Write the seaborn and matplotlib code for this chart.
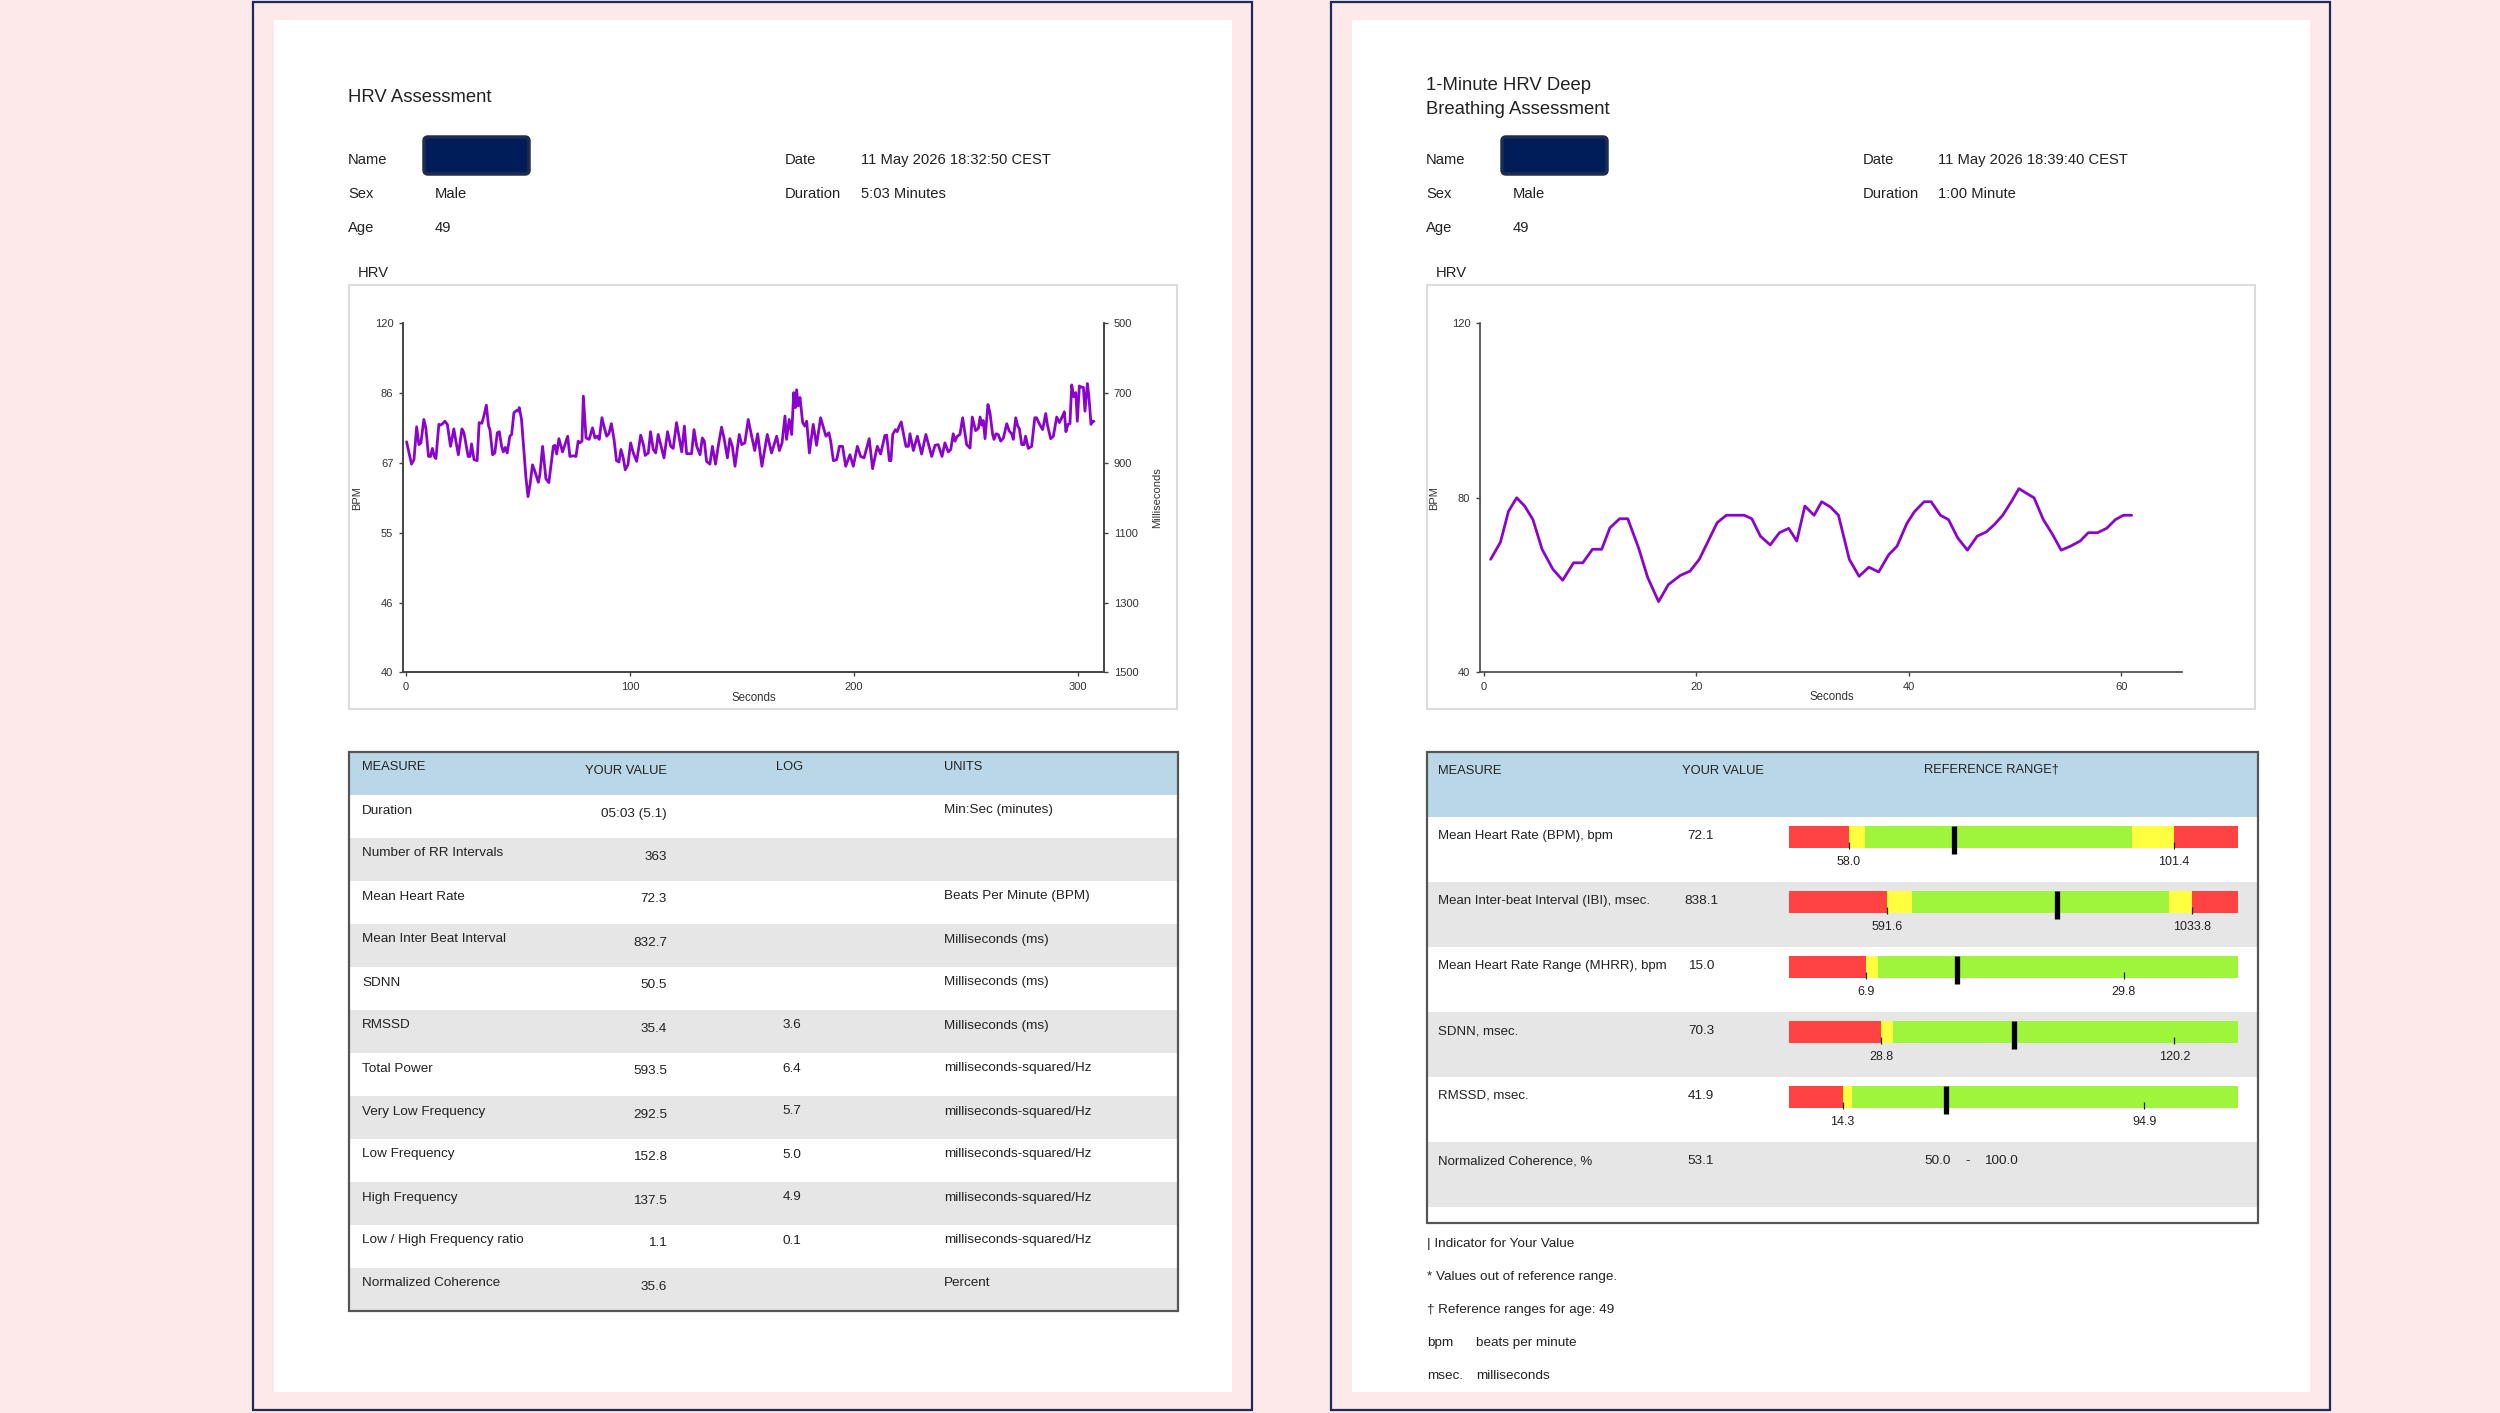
import numpy as np
import matplotlib.pyplot as plt
import matplotlib.patches as mpatches
from matplotlib.ticker import FuncFormatter
import pandas as pd
import seaborn as sns

# 5 minute HRV recording: time (s) and RR interval (ms)
hrv_t = [0.3, 2.5, 3.6, 4.8, 5.8, 6.7, 8.0, 8.9, 10.1, 11.0, 11.8, 12.7, 13.4, 14.7, 15.5,
         16.4, 17.4, 18.5, 19.9, 21.4, 22.3, 23.4, 25.0, 25.9, 27.8, 28.6, 29.3, 30.4, 31.8, 32.7,
         33.9, 34.8, 35.9, 36.9, 37.5, 38.7, 39.7, 40.8, 41.7, 42.7, 43.5, 44.3, 45.2, 46.4, 47.2,
         48.2, 49.4, 50.1, 50.6, 51.6, 52.7, 53.6, 54.5, 55.4, 56.5, 57.6, 59.1, 59.8, 61.0,
         62.5, 63.8, 65.8, 66.5, 67.3, 68.3, 69.9, 71.0, 72.2, 73.2, 74.7, 75.9, 76.9, 77.7, 78.6,
         79.2, 80.4, 81.8, 83.3, 84.4, 85.4, 86.3, 87.5, 88.4, 89.6, 90.6, 91.7, 92.9, 94.0, 95.1,
         96.0, 97.0, 97.9, 99.1, 100.3, 101.5, 103.0, 104.8, 106.0, 106.8, 108.2, 109.2, 110.4, 111.5, 112.6,
         114.1, 115.2, 116.8, 118.2, 119.3, 120.8, 122.0, 123.1, 124.3,
         125.3, 127.5, 128.6, 129.8, 131.3, 132.3, 133.2, 134.2, 135.7, 136.8, 138.2, 139.4, 140.9, 142.1, 143.5,
         144.6, 145.7, 146.9, 148.8, 149.9, 151.3, 152.8, 154.0, 155.7, 157.0, 158.9, 161.3, 163.2, 165.5, 166.7,
         167.9, 169.2, 169.9, 171.1, 172.2, 173.1, 173.8, 174.4, 175.1, 175.9, 177.1, 178.1, 178.9, 180.1, 181.8,
         183.3, 185.1,
         187.5, 188.8, 189.6, 190.8, 192.3, 193.5, 194.9, 196.3, 198.2, 199.7, 201.5, 203.0, 204.5, 206.8, 208.3,
         210.4, 211.9, 213.8, 214.6, 215.8, 216.5, 217.3, 218.5, 219.3, 220.2, 221.1, 222.0, 223.2, 224.3, 225.0,
         226.5, 228.3, 230.2, 232.1, 234.7, 236.2, 237.6, 239.3, 240.6, 242.1, 243.2, 244.3, 245.1, 246.1, 247.3,
         248.5,
         250.3, 251.8, 252.8, 254.3, 255.5, 256.3, 257.0, 257.7, 258.5, 259.8, 260.7, 261.9, 262.5, 263.4, 264.4,
         265.5, 266.7, 268.2, 269.3, 270.4, 271.1, 272.2, 273.1, 273.8, 274.9, 275.9, 276.6, 277.8, 279.3, 280.7,
         281.5, 282.7, 284.2, 285.6, 286.3, 287.8, 289.0, 290.5, 291.7, 292.9, 293.9, 294.6, 295.5, 296.4, 297.2,
         298.1, 299.0, 299.7, 300.6, 301.3, 302.4, 303.1, 304.2, 304.9, 305.8, 306.5, 307.1]
hrv_rr = [839, 903, 890, 796, 847, 842, 775, 799, 881, 881, 858, 881, 887, 789, 791,
          787, 780, 789, 852, 802, 837, 876, 802, 813, 881, 881, 845, 890, 893, 784,
          786, 765, 734, 794, 804, 876, 871, 813, 810, 852, 868, 855, 871, 823, 818,
          756, 749, 751, 741, 775, 866, 943, 996, 962, 905, 924, 955, 933, 852,
          945, 956, 852, 849, 874, 830, 868, 847, 823, 881, 879, 881, 837, 842, 837,
          708, 828, 832, 799, 828, 823, 832, 770, 794, 823, 816, 787, 832, 893, 897,
          861, 885, 919, 905, 842, 871, 895, 820, 847, 878, 871, 810, 861, 871, 818,
          857, 885, 810, 852, 858, 784, 828, 868, 794,
          873, 873, 804, 852, 876, 828, 837, 895, 903, 852, 903, 852, 797, 832, 885,
          830, 852, 909, 818, 847, 842, 775, 813, 864, 816, 909, 818, 871, 823, 864,
          842, 765, 832, 775, 818, 698, 741, 690, 736, 712, 784, 794, 780, 871, 789,
          849, 770,
          823, 813, 837, 893, 890, 852, 852, 909, 876, 909, 852, 881, 885, 830, 916,
          852, 874, 821, 820, 893, 893, 818, 804, 810, 794, 782, 813, 852, 852, 816,
          864, 823, 874, 818, 881, 849, 847, 881, 842, 868, 861, 816, 837, 823, 818,
          770,
          847, 857, 768, 807, 801, 768, 791, 778, 830, 732, 756, 818, 832, 816, 818,
          837, 828, 787, 808, 816, 832, 770, 794, 801, 847, 847, 823, 858, 852, 770,
          770, 787, 804, 758, 789, 830, 823, 768, 784, 768, 753, 810, 789, 787, 676,
          710, 698, 780, 679, 682, 683, 751, 672, 712, 789, 780, 780]

# 1 minute deep breathing: time (s) and heart rate (bpm)
deep_t = [0.66, 1.58, 2.34, 3.11, 3.87, 4.64, 5.50, 6.52, 7.44, 8.46, 9.33, 10.24, 11.11, 11.88, 12.79,
          13.56, 14.58, 15.44, 16.46, 17.38, 18.50, 19.42, 20.29, 21.05, 21.97, 22.83, 23.75, 24.52, 25.23, 26.04,
          26.96, 27.83, 28.70, 29.46, 30.22, 31.09, 31.80, 32.62, 33.38, 34.40, 35.32, 36.24, 37.16, 38.12, 38.89,
          39.81, 40.52, 41.44, 42.10, 42.97, 43.73, 44.60, 45.51, 46.43, 47.30, 48.06, 48.83, 49.59, 50.36, 51.02,
          51.78, 52.65, 53.52, 54.33, 55.20, 56.12, 56.88, 57.75, 58.61, 59.43, 60.19, 60.96]
deep_bpm = [65.9, 69.8, 76.9, 80.0, 78.1, 75.0, 68.2, 63.6, 61.1, 65.1, 65.1, 68.2, 68.2, 73.1, 75.2,
            75.2, 68.5, 61.7, 56.2, 60.1, 62.2, 63.2, 65.9, 69.7, 74.3, 76.0, 76.0, 76.0, 75.2, 71.2,
            69.2, 72.0, 73.0, 70.1, 78.1, 76.0, 79.1, 77.9, 76.0, 65.9, 62.0, 64.1, 63.0, 67.0, 68.9,
            74.1, 76.8, 79.1, 79.1, 76.0, 75.0, 70.8, 68.0, 71.2, 72.2, 73.9, 76.0, 78.9, 82.1, 81.1,
            80.0, 75.0, 71.6, 68.0, 68.9, 70.1, 72.0, 72.0, 73.0, 75.0, 76.0, 76.0]

# left table
measures = ["Duration", "Number of RR Intervals", "Mean Heart Rate", "Mean Inter Beat Interval",
            "SDNN", "RMSSD", "Total Power", "Very Low Frequency", "Low Frequency",
            "High Frequency", "Low / High Frequency ratio", "Normalized Coherence"]
your_values = ["05:03 (5.1)", "363", "72.3", "832.7", "50.5", "35.4", "593.5", "292.5",
               "152.8", "137.5", "1.1", "35.6"]
log_values = ["", "", "", "", "", "3.6", "6.4", "5.7", "5.0", "4.9", "0.1", ""]
units = ["Min:Sec (minutes)", "", "Beats Per Minute (BPM)", "Milliseconds (ms)",
         "Milliseconds (ms)", "Milliseconds (ms)", "milliseconds-squared/Hz",
         "milliseconds-squared/Hz", "milliseconds-squared/Hz", "milliseconds-squared/Hz",
         "milliseconds-squared/Hz", "Percent"]

# right table
measures2 = ["Mean Heart Rate (BPM), bpm", "Mean Inter-beat Interval (IBI), msec.",
             "Mean Heart Rate Range (MHRR), bpm", "SDNN, msec.", "RMSSD, msec.",
             "Normalized Coherence, %"]
values2 = [72.1, 838.1, 15.0, 70.3, 41.9, 53.1]
ref_low = [58.0, 591.6, 6.9, 28.8, 14.3, 50.0]
ref_high = [101.4, 1033.8, 29.8, 120.2, 94.9, 100.0]
scale_min = [50, 450, 0, 0, 0]
scale_max = [110, 1100, 40, 140, 120]
warn_low = [60.2, 628.4, 7.9, 32.5, 16.9]
warn_high = [95.8, 1000.0, None, None, None]

footnotes = [("| Indicator for Your Value", ""), ("* Values out of reference range.", ""),
             ("\u2020 Reference ranges for age: 49", ""), ("bpm", "beats per minute"),
             ("msec.", "milliseconds")]

sns.set_theme(style="white")
plt.rcParams['font.family'] = ['Liberation Sans', 'DejaVu Sans']

W, H = 2500, 1413
fig = plt.figure(figsize=(W / 100, H / 100), dpi=100)
fig.patch.set_facecolor('#fde9e9')
TXT = '#222222'
PURPLE = '#8a05cc'
FS = 10.6    # header labels
FT = 9.7     # table text

page = fig.add_axes([0, 0, 1, 1])
page.set_xlim(0, W)
page.set_ylim(H, 0)
page.axis('off')


def rect(x0, y0, x1, y1, **kw):
    page.add_patch(mpatches.Rectangle((x0, y0), x1 - x0, y1 - y0, **kw))


def px_axes(x0, y0, x1, y1):
    return fig.add_axes([x0 / W, 1 - y1 / H, (x1 - x0) / W, (y1 - y0) / H])


def t(x, y, s, **kw):
    kw.setdefault('fontsize', FS)
    kw.setdefault('color', TXT)
    kw.setdefault('va', 'center')
    page.text(x, y, s, **kw)


# panels, pages, header blocks
for ox in (0, 1078):
    rect(253 + ox, 2, 1252 + ox, 1410, fill=False, edgecolor='#1d2b5a', lw=1.6)
    rect(274 + ox, 20, 1232 + ox, 1392, facecolor='white', edgecolor='none')
    t(348 + ox, 160, "Name")
    t(348 + ox, 194, "Sex")
    t(348 + ox, 228, "Age")
    t(785 + ox, 160, "Date")
    t(785 + ox, 194, "Duration")
    page.add_patch(mpatches.FancyBboxPatch((424 + ox, 137), 105, 37,
                                           boxstyle="round,pad=0,rounding_size=4",
                                           facecolor='#001d5a', edgecolor='#1e2d4d', lw=2.5))
    # chart frame
    rect(349 + ox, 285, 1177 + ox, 709, fill=False, edgecolor='#dcdcdc', lw=1.5)
    t(358 + ox, 273, "HRV")

t(348, 98, "HRV Assessment", fontsize=13.3)
t(435, 194, "Male")
t(435, 228, "49")
t(861, 160, "11 May 2026 18:32:50 CEST")
t(861, 194, "5:03 Minutes")

t(1426, 86, "1-Minute HRV Deep", fontsize=13.3)
t(1426, 110, "Breathing Assessment", fontsize=13.3)
t(1513, 194, "Male")
t(1513, 228, "49")
t(1938, 160, "11 May 2026 18:39:40 CEST")
t(1938, 194, "1:00 Minute")

# ---- left chart (RR interval axis, BPM labels on the left)
ax = px_axes(403, 323.5, 1104, 672.5)
df1 = pd.DataFrame({'t': hrv_t, 'rr': hrv_rr})
sns.lineplot(data=df1, x='t', y='rr', ax=ax, color=PURPLE, linewidth=2.0,
             estimator=None, sort=False)
ax.set_xlim(-1.3, 311.6)
ax.set_ylim(1500, 500)
ax.set_yticks([500, 700, 900, 1100, 1300, 1500])
ax.yaxis.set_major_formatter(FuncFormatter(lambda v, p: f"{60000 / v:.0f}"))
ax.set_xticks([0, 100, 200, 300])
ax2 = ax.twinx()
ax2.set_ylim(1500, 500)
ax2.set_yticks([500, 700, 900, 1100, 1300, 1500])
ax2.set_ylabel("Milliseconds", fontsize=8, color='#333333', rotation=90)
ax2.yaxis.set_label_coords(1.068, 0.5)
ax.set_ylabel("BPM", fontsize=8, color='#333333')
ax.yaxis.set_label_coords(-0.059, 0.5)
ax.set_xlabel("Seconds", fontsize=8.3, color='#333333')
ax.xaxis.set_label_coords(0.5, -0.055)

# ---- right chart
bx_chart = px_axes(1480, 323.3, 2181.5, 672.3)
df2 = pd.DataFrame({'t': deep_t, 'bpm': deep_bpm})
sns.lineplot(data=df2, x='t', y='bpm', ax=bx_chart, color=PURPLE, linewidth=2.0,
             estimator=None, sort=False)
bx_chart.set_xlim(-0.34, 65.65)
bx_chart.set_ylim(40, 120)
bx_chart.set_yticks([40, 80, 120])
bx_chart.set_xticks([0, 20, 40, 60])
bx_chart.set_ylabel("BPM", fontsize=8, color='#333333')
bx_chart.yaxis.set_label_coords(-0.058, 0.5)
bx_chart.set_xlabel("Seconds", fontsize=8.3, color='#333333')
bx_chart.xaxis.set_label_coords(0.502, -0.055)

for a in (ax, ax2, bx_chart):
    a.set_facecolor('none')
    a.grid(False)
    for s in a.spines.values():
        s.set_color('#444444')
        s.set_linewidth(1.2)
    a.spines['top'].set_visible(False)
    a.tick_params(axis='both', labelsize=8, labelcolor='#333333', color='#444444',
                  length=3, width=1, pad=4, left=True, bottom=True)
ax2.tick_params(axis='y', right=True, left=False)
bx_chart.spines['right'].set_visible(False)

# ---- left table
tx0, tx1, ty0 = 349, 1178, 752
rh = 43
rect(tx0, ty0, tx1, ty0 + rh, facecolor='#bad7e7', edgecolor='none')
for i in range(len(measures)):
    top = ty0 + rh * (i + 1)
    rect(tx0, top, tx1, top + rh, facecolor='white' if i % 2 == 0 else '#e6e6e6', edgecolor='none')
    t(362, top + 15.5, measures[i], fontsize=FT)
    t(667, top + 18.5, your_values[i], fontsize=FT, ha='right')
    t(792, top + 15.5, log_values[i], fontsize=FT, ha='center')
    t(944, top + 15.5, units[i], fontsize=FT)
rect(tx0, ty0, tx1, ty0 + rh * 13, fill=False, edgecolor='#555555', lw=1.6)
t(362, ty0 + 15, "MEASURE", fontsize=9.3)
t(667, ty0 + 19, "YOUR VALUE", fontsize=9.3, ha='right')
t(776, ty0 + 15, "LOG", fontsize=9.3)
t(944, ty0 + 15, "UNITS", fontsize=9.3)

# ---- right table
rx0, rx1, ry0 = 1427, 2258, 752
rh2 = 65
rect(rx0, ry0, rx1, ry0 + rh2, facecolor='#bad7e7', edgecolor='none')
t(1438, ry0 + 19, "MEASURE", fontsize=9.3)
t(1682, ry0 + 19, "YOUR VALUE", fontsize=9.3)
t(1924, ry0 + 18, "REFERENCE RANGE\u2020", fontsize=9.3)
RED, YEL, GRN = '#ff4242', '#ffff40', '#9ef53c'
for i in range(len(measures2)):
    top = ry0 + rh2 * (i + 1)
    rect(rx0, top, rx1, top + rh2, facecolor='white' if i % 2 == 0 else '#e6e6e6', edgecolor='none')
    t(1438, top + 19, measures2[i], fontsize=9.5)
    t(1701, top + 19, f"{values2[i]:.1f}", fontsize=FT, ha='center')
    if i >= len(scale_min):
        t(1924, top + 19, f"{ref_low[i]:.1f}", fontsize=FT)
        t(1968, top + 19, "-", fontsize=FT, ha='center')
        t(1984, top + 19, f"{ref_high[i]:.1f}", fontsize=FT)
        continue
    bar = px_axes(1789, top + 9.3, 2238, top + 31)
    edges = [scale_min[i], ref_low[i], warn_low[i]]
    cols = [RED, YEL]
    if warn_high[i] is not None:
        edges += [warn_high[i], ref_high[i], scale_max[i]]
        cols += [GRN, YEL, RED]
    else:
        edges += [scale_max[i]]
        cols += [GRN]
    bar.barh(0.5, np.diff(edges), left=edges[:-1], height=1, color=cols, linewidth=0)
    bar.set_xlim(scale_min[i], scale_max[i])
    bar.set_ylim(0, 1)
    bar.axis('off')
    bar.vlines([ref_low[i], ref_high[i]], -0.05, 0.27, color='#222222', lw=0.9, clip_on=False)
    bar.vlines(values2[i], -0.26, 1.0, color='black', lw=3.8, clip_on=False)
    for v in (ref_low[i], ref_high[i]):
        bar.text(v, -0.65, f"{v:.1f}", ha='center', va='center', fontsize=9,
                 color=TXT, clip_on=False)
rect(rx0, 1210, rx1, 1223, facecolor='white', edgecolor='none')
rect(rx0, ry0, rx1, 1223, fill=False, edgecolor='#555555', lw=1.6)

for k, (a, b) in enumerate(footnotes):
    t(1427, 1244 + 33 * k, a, fontsize=FT)
    if b:
        t(1476, 1244 + 33 * k, b, fontsize=FT)

fig.savefig("out.png", dpi=100, facecolor=fig.get_facecolor())
